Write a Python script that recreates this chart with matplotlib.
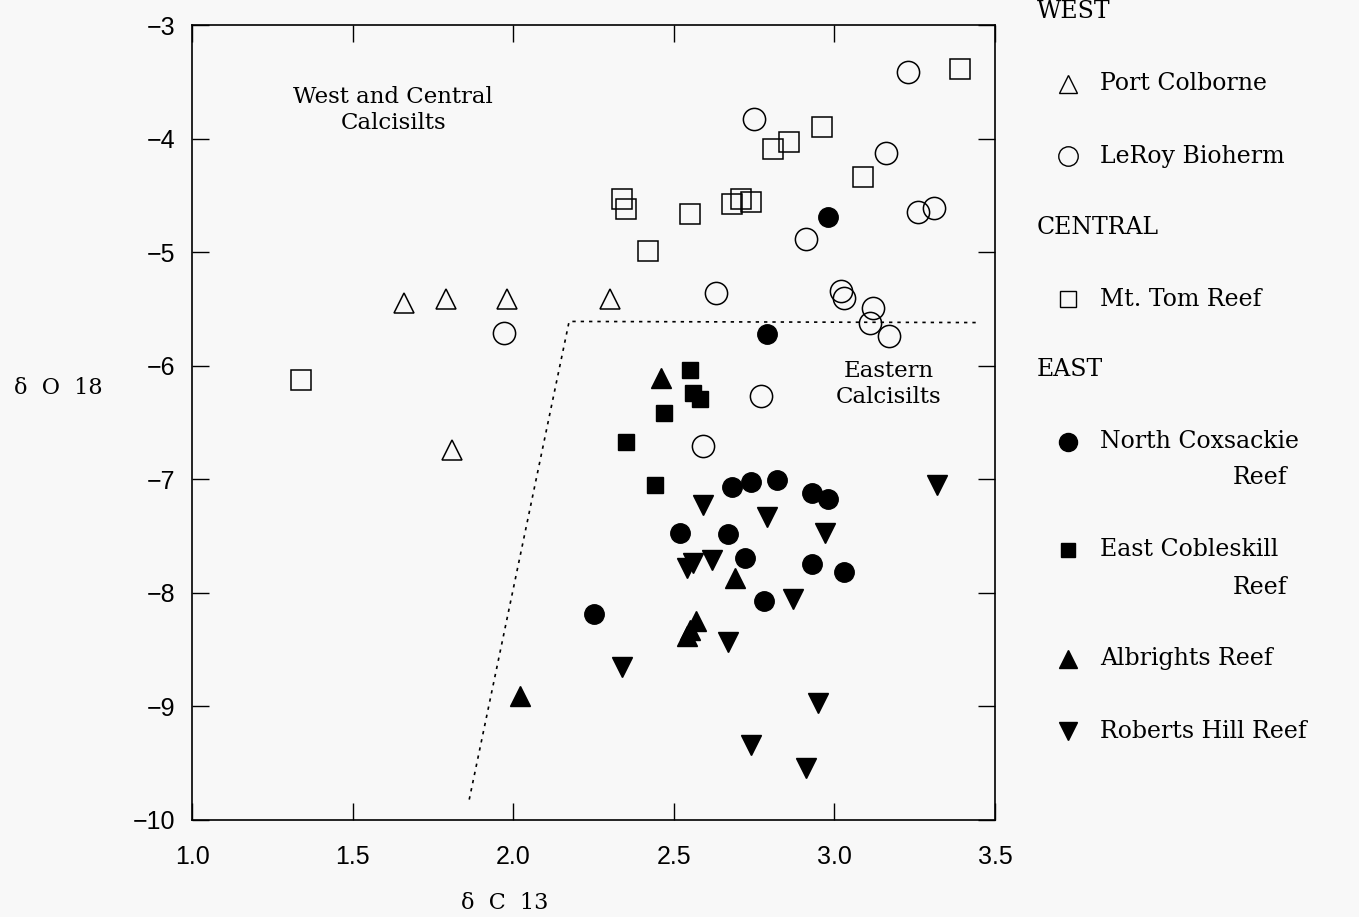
import numpy as np
import matplotlib.pyplot as plt
from matplotlib.lines import Line2D

# Port Colborne (open triangles)
pc_x = [1.66, 1.79, 1.98, 2.30, 1.81]
pc_y = [-5.45, -5.41, -5.41, -5.41, -6.74]

# LeRoy Bioherm (open circles)
lr_x = [3.23, 2.75, 3.16, 3.26, 3.31, 2.91, 2.63, 3.02, 3.03, 3.12, 3.11, 3.17, 1.97, 2.77, 2.59]
lr_y = [-3.41, -3.83, -4.13, -4.65, -4.61, -4.88, -5.36, -5.34, -5.40, -5.49, -5.62, -5.74, -5.71, -6.27, -6.71]

# Mt. Tom Reef (open squares)
mt_x = [3.39, 2.96, 2.86, 2.81, 3.09, 2.34, 2.35, 2.55, 2.68, 2.71, 2.74, 2.42, 1.34]
mt_y = [-3.39, -3.90, -4.03, -4.09, -4.34, -4.53, -4.62, -4.66, -4.58, -4.53, -4.56, -4.99, -6.13]

# North Coxsackie Reef (filled circles)
nc_x = [2.98, 2.79, 2.68, 2.74, 2.82, 2.93, 2.98, 2.52, 2.67, 2.72, 2.93, 3.03, 2.78, 2.25]
nc_y = [-4.69, -5.72, -7.07, -7.02, -7.01, -7.12, -7.17, -7.47, -7.48, -7.69, -7.75, -7.82, -8.07, -8.19]

# East Cobleskill Reef (filled squares)
ec_x = [2.55, 2.56, 2.58, 2.47, 2.35, 2.44]
ec_y = [-6.04, -6.24, -6.29, -6.42, -6.67, -7.05]

# Albrights Reef (filled triangles)
al_x = [2.46, 2.69, 2.57, 2.55, 2.54, 2.02]
al_y = [-6.11, -7.87, -8.25, -8.33, -8.38, -8.91]

# Roberts Hill Reef (filled inverted triangles)
rh_x = [3.32, 2.59, 2.79, 2.97, 2.54, 2.56, 2.62, 2.87, 2.67, 2.34, 2.95, 2.74, 2.91]
rh_y = [-7.05, -7.23, -7.33, -7.47, -7.78, -7.74, -7.71, -8.05, -8.43, -8.65, -8.97, -9.34, -9.54]

# boundary between calcisilt fields
bound_x = [1.863, 2.174, 3.449]
bound_y = [-9.82, -5.61, -5.62]

bg = '#f8f8f8'
fig = plt.figure(figsize=(13.59, 9.17), dpi=100, facecolor=bg)
ax = fig.add_axes([0.1413, 0.1058, 0.5909, 0.8669], facecolor=bg)

ax.plot(bound_x, bound_y, color='black', linestyle=(0, (2, 3)), linewidth=1.2)

openkw = dict(linestyle='none', markerfacecolor='none', markeredgecolor='black', markeredgewidth=1.1)
fillkw = dict(linestyle='none', color='black')
ax.plot(pc_x, pc_y, marker='^', markersize=15, **openkw)
ax.plot(lr_x, lr_y, marker='o', markersize=16, **openkw)
ax.plot(mt_x, mt_y, marker='s', markersize=14, **openkw)
ax.plot(nc_x, nc_y, marker='o', markersize=14, **fillkw)
ax.plot(ec_x, ec_y, marker='s', markersize=11, **fillkw)
ax.plot(al_x, al_y, marker='^', markersize=14, **fillkw)
ax.plot(rh_x, rh_y, marker='v', markersize=14, **fillkw)

ax.text(1.626, -3.75, 'West and Central\nCalcisilts', ha='center', va='center',
        family='DejaVu Serif', fontsize=16.5, linespacing=1.25)
ax.text(3.17, -6.16, 'Eastern\nCalcisilts', ha='center', va='center',
        family='DejaVu Serif', fontsize=16.5, linespacing=1.25)

ax.set_xlim(1.0, 3.5)
ax.set_ylim(-10, -3)
ax.set_xticks([1.0, 1.5, 2.0, 2.5, 3.0, 3.5])
ax.set_xticklabels(['1.0', '1.5', '2.0', '2.5', '3.0', '3.5'])
ax.set_yticks([-3, -4, -5, -6, -7, -8, -9, -10])
ax.set_yticklabels(['\u22123', '\u22124', '\u22125', '\u22126', '\u22127', '\u22128', '\u22129', '\u221210'])
ax.tick_params(axis='both', direction='in', length=12, width=1, top=True, right=True,
               labelsize=18)
ax.tick_params(axis='x', pad=18)
ax.tick_params(axis='y', pad=12)
for lab in ax.get_xticklabels() + ax.get_yticklabels():
    lab.set_family('Liberation Sans')
for s in ax.spines.values():
    s.set_linewidth(1.2)

fig.text(58 / 1359, 1 - 388 / 917, '\u03b4  O  18', ha='center', va='center',
         family='DejaVu Serif', fontsize=16)
fig.text(505 / 1359, 1 - 903 / 917, '\u03b4  C  13', ha='center', va='center',
         family='DejaVu Serif', fontsize=16)

# legend drawn by hand in figure coordinates
leg_font = dict(family='DejaVu Serif', fontsize=17, va='center', ha='left')
headers = [('WEST', 12), ('CENTRAL', 228), ('EAST', 370)]
for txt, py in headers:
    fig.text(1037 / 1359, 1 - py / 917, txt, **leg_font)

entries = [
    ('Port Colborne', 84, '^', 'none', 13),
    ('LeRoy Bioherm', 156, 'o', 'none', 14),
    ('Mt. Tom Reef', 299, 's', 'none', 11),
    ('North Coxsackie', 442, 'o', 'black', 13),
    ('East Cobleskill', 550, 's', 'black', 10),
    ('Albrights Reef', 659, '^', 'black', 13),
    ('Roberts Hill Reef', 731, 'v', 'black', 13),
]
for txt, py, mk, fc, ms in entries:
    my = 1 - py / 917
    fig.add_artist(Line2D([1068 / 1359], [my], marker=mk, markersize=ms,
                          markerfacecolor=fc, markeredgecolor='black',
                          markeredgewidth=1.0, linestyle='none',
                          transform=fig.transFigure))
    fig.text(1100 / 1359, my, txt, **leg_font)
for py in (478, 587):
    fig.text(1233 / 1359, 1 - py / 917, 'Reef', **leg_font)

fig.savefig('out.png', dpi=100, facecolor=bg)
